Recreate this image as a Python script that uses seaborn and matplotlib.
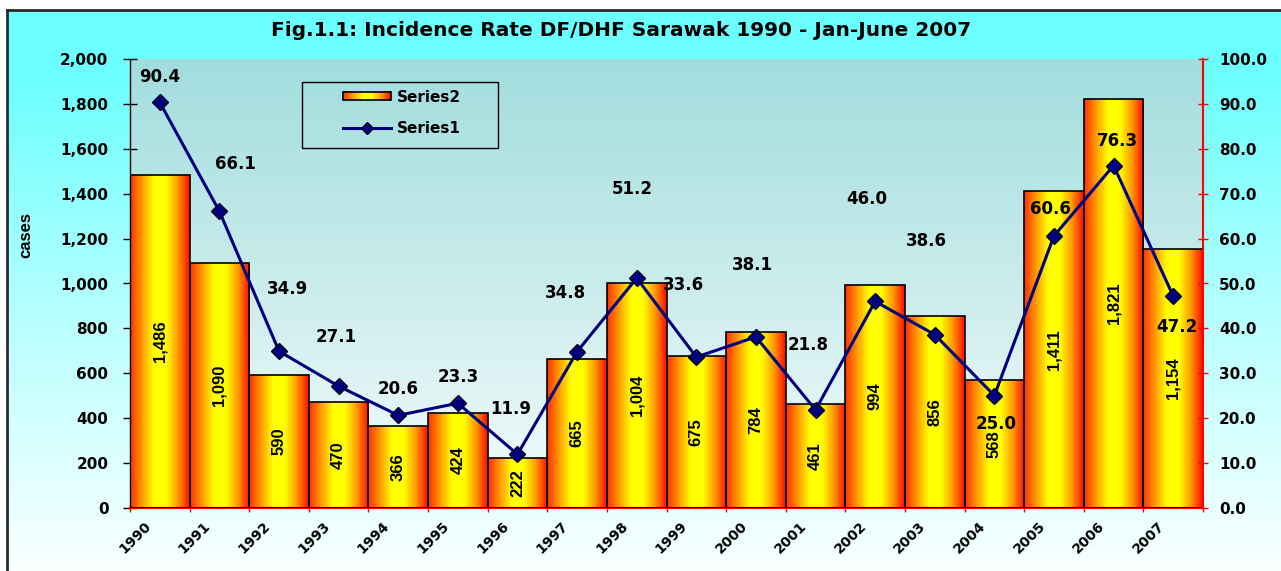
import numpy as np
import matplotlib
matplotlib.use("Agg")
import matplotlib.pyplot as plt
import seaborn as sns
from matplotlib.colors import LinearSegmentedColormap
from matplotlib.patches import Rectangle, Patch
from matplotlib.lines import Line2D
from matplotlib.image import BboxImage
from matplotlib.transforms import Bbox, TransformedBbox, ScaledTranslation
from matplotlib.legend_handler import HandlerBase
from matplotlib.ticker import FuncFormatter

# ---------------- data ----------------
years = ['1990', '1991', '1992', '1993', '1994', '1995', '1996', '1997', '1998',
         '1999', '2000', '2001', '2002', '2003', '2004', '2005', '2006', '2007']
cases = [1486, 1090, 590, 470, 366, 424, 222, 665, 1004,
         675, 784, 461, 994, 856, 568, 1411, 1821, 1154]
rate = [90.4, 66.1, 34.9, 27.1, 20.6, 23.3, 11.9, 34.8, 51.2,
        33.6, 38.1, 21.8, 46.0, 38.6, 25.0, 60.6, 76.3, 47.2]
left_ticks = [0, 200, 400, 600, 800, 1000, 1200, 1400, 1600, 1800, 2000]
right_ticks = [0, 10, 20, 30, 40, 50, 60, 70, 80, 90, 100]
title = 'Fig.1.1: Incidence Rate DF/DHF Sarawak 1990 - Jan-June 2007'
y_label = 'cases'
bar_name = 'Series2'
line_name = 'Series1'

# label placement (pixel offsets of the rate labels from their points)
label_dx = [0, 16, 8, -2, 0, 0, -7, -12, -4, -13, -4, -7, -8, -8, 2, -4, 4, 4]
label_dy = [25, 47, 62, 49, 26, 26, 45, 59, 89, 72, 72, 65, 102, 94, -28, 27, 25, -31]

plt.rcParams['font.family'] = ['DejaVu Sans']
plt.rcParams['font.weight'] = 'bold'
plt.rcParams['axes.labelweight'] = 'bold'

W, H = 1281, 571
fig = plt.figure(figsize=(W / 100, H / 100), dpi=100)


def fx(px):
    return px / W


def fy(py):
    return 1 - py / H


# ---------- chart-area background ----------
bg = fig.add_axes([fx(7), 0, 1 - fx(7), fy(10)], zorder=-5)
bg_cmap = LinearSegmentedColormap.from_list(
    'bg', [(0, '#6CFFFF'), (0.12, '#6CFFFF'), (0.55, '#B8FFFF'), (1, '#FAFFFF')])
vgrad = np.linspace(0, 1, 256).reshape(-1, 1)
bg.imshow(vgrad, cmap=bg_cmap, aspect='auto', extent=[0, 1, 0, 1], origin='upper')
bg.set_xlim(0, 1)
bg.set_ylim(0, 1)
bg.set_xticks([])
bg.set_yticks([])
for s in ['right', 'bottom']:
    bg.spines[s].set_visible(False)
for s in ['left', 'top']:
    bg.spines[s].set_color('#2a2a2a')
    bg.spines[s].set_linewidth(2)

# ---------- main axes ----------
x0p, x1p, y0p, y1p = 130, 1203, 507.7, 59.3
ax = fig.add_axes([fx(x0p), fy(y0p), (x1p - x0p) / W, (y0p - y1p) / H])
ax.patch.set_visible(False)
plot_cmap = LinearSegmentedColormap.from_list('pa', ['#A2DDDE', '#CBECEC', '#F6FDFD'])
ax.imshow(vgrad, cmap=plot_cmap, aspect='auto', extent=[0, 1, 0, 1],
          transform=ax.transAxes, zorder=0, origin='upper')

n = len(years)
sns.barplot(x=years, y=cases, ax=ax, width=1.0, color='orange',
            edgecolor='black', linewidth=1.2, zorder=2)

bar_cmap = LinearSegmentedColormap.from_list(
    'bar', ['#FF3000', '#FF9A00', '#FFFF00', '#FFFF00', '#FF9A00', '#FF0800'])
hgrad = np.linspace(0, 1, 256).reshape(1, -1)
for p, v in zip(ax.patches, cases):
    bx, bw, bh = p.get_x(), p.get_width(), p.get_height()
    im = ax.imshow(hgrad, cmap=bar_cmap, extent=[bx, bx + bw, 0, bh],
                   aspect='auto', zorder=2.5, interpolation='bicubic')
    im.set_clip_path(p)
    p.set_facecolor('none')
    p.set_zorder(3)
    ax.text(bx + bw / 2, bh / 2, f'{v:,}', rotation=90, ha='center', va='center',
            fontfamily='Liberation Sans', fontweight='bold', fontsize=12, zorder=4)

ax.set_xlim(-0.5, n - 0.5)
ax.set_ylim(0, 2000)
ax.set_xlabel('')
ax.set_yticks(left_ticks)
ax.yaxis.set_major_formatter(FuncFormatter(lambda v, p: f'{int(v):,}'))
ax.tick_params(axis='y', direction='inout', length=10, width=1, color='black',
               pad=10.5, labelsize=11)
ax.set_xticks(np.arange(n))
ax.set_xticklabels(years, rotation=45, ha='right', va='center', rotation_mode='anchor')
ax.tick_params(axis='x', which='major', length=0, pad=11.5, labelsize=10)
ax.set_xticks(np.arange(n + 1) - 0.5, minor=True)
ax.tick_params(axis='x', which='minor', direction='inout', length=6, width=1, color='red')
for s in ['top', 'right']:
    ax.spines[s].set_visible(False)
ax.spines['left'].set_color('black')
ax.spines['left'].set_linewidth(1)
ax.spines['bottom'].set_color('red')
ax.spines['bottom'].set_linewidth(1.5)
ax.set_ylabel(y_label, fontfamily='Liberation Sans', fontsize=12, fontweight='bold')
ax.yaxis.set_label_coords(-0.0905, 0.608)

# ---------- rate line ----------
ax2 = ax.twinx()
sns.lineplot(x=np.arange(n), y=rate, ax=ax2, color='#000080', linewidth=2.2,
             marker='D', markersize=8.5, markerfacecolor='#000080',
             markeredgecolor='#00001A', markeredgewidth=1, zorder=5)
ax2.set_ylim(0, 100)
ax2.set_xlim(-0.5, n - 0.5)
ax2.set_ylabel('')
ax2.set_yticks(right_ticks)
ax2.yaxis.set_major_formatter(FuncFormatter(lambda v, p: f'{v:.1f}'))
ax2.tick_params(axis='y', direction='inout', length=7, width=1, color='red',
                labelcolor='black', pad=8, labelsize=11)
for s in ['left', 'top', 'bottom']:
    ax2.spines[s].set_visible(False)
ax2.spines['right'].set_color('red')
ax2.spines['right'].set_linewidth(1.5)

for i, v in enumerate(rate):
    ax2.annotate(f'{v:.1f}', (i, v), xytext=(label_dx[i], label_dy[i]),
                 textcoords='offset pixels', ha='center', va='center',
                 fontsize=12, fontweight='bold', zorder=6)


# ---------- legend ----------
class GradHandler(HandlerBase):
    def create_artists(self, legend, orig_handle, xdescent, ydescent,
                       width, height, fontsize, trans):
        h = height * 0.75
        y0 = -ydescent + (height - h) / 2
        bb = TransformedBbox(Bbox.from_bounds(-xdescent, y0, width, h), trans)
        img = BboxImage(bb, cmap=bar_cmap, interpolation='bicubic')
        img.set_data(hgrad)
        rect = Rectangle((-xdescent, y0), width, h, facecolor='none',
                         edgecolor='black', linewidth=1.2, transform=trans)
        return [img, rect]


bar_handle = Patch(facecolor='orange', edgecolor='black', label=bar_name)
line_handle = Line2D([], [], color='#000080', linewidth=2.2, marker='D',
                     markersize=6, markerfacecolor='#000080',
                     markeredgecolor='#00001A', label=line_name)
ax2.legend(handles=[bar_handle, line_handle], loc='center',
           bbox_to_anchor=(fx(402), fy(113)), bbox_transform=fig.transFigure,
           frameon=False, fontsize=11, handlelength=3.1, handletextpad=0.4,
           labelspacing=1.1, handler_map={Patch: GradHandler()})
fig.patches.append(Rectangle((fx(302), fy(148)), (498 - 302) / W, (148 - 82) / H,
                             transform=fig.transFigure, fill=False,
                             edgecolor='black', linewidth=1, zorder=1))

# ---------- title ----------
fig.text(fx(621), fy(31), title, ha='center', va='center', fontsize=14.5,
         fontweight='bold')

# shift the rotated year labels slightly left of their bar centres
shift = ScaledTranslation(-11 / 100, 0, fig.dpi_scale_trans)
for lbl in ax.get_xticklabels():
    lbl.set_transform(lbl.get_transform() + shift)

fig.savefig('out.png', dpi=100)
